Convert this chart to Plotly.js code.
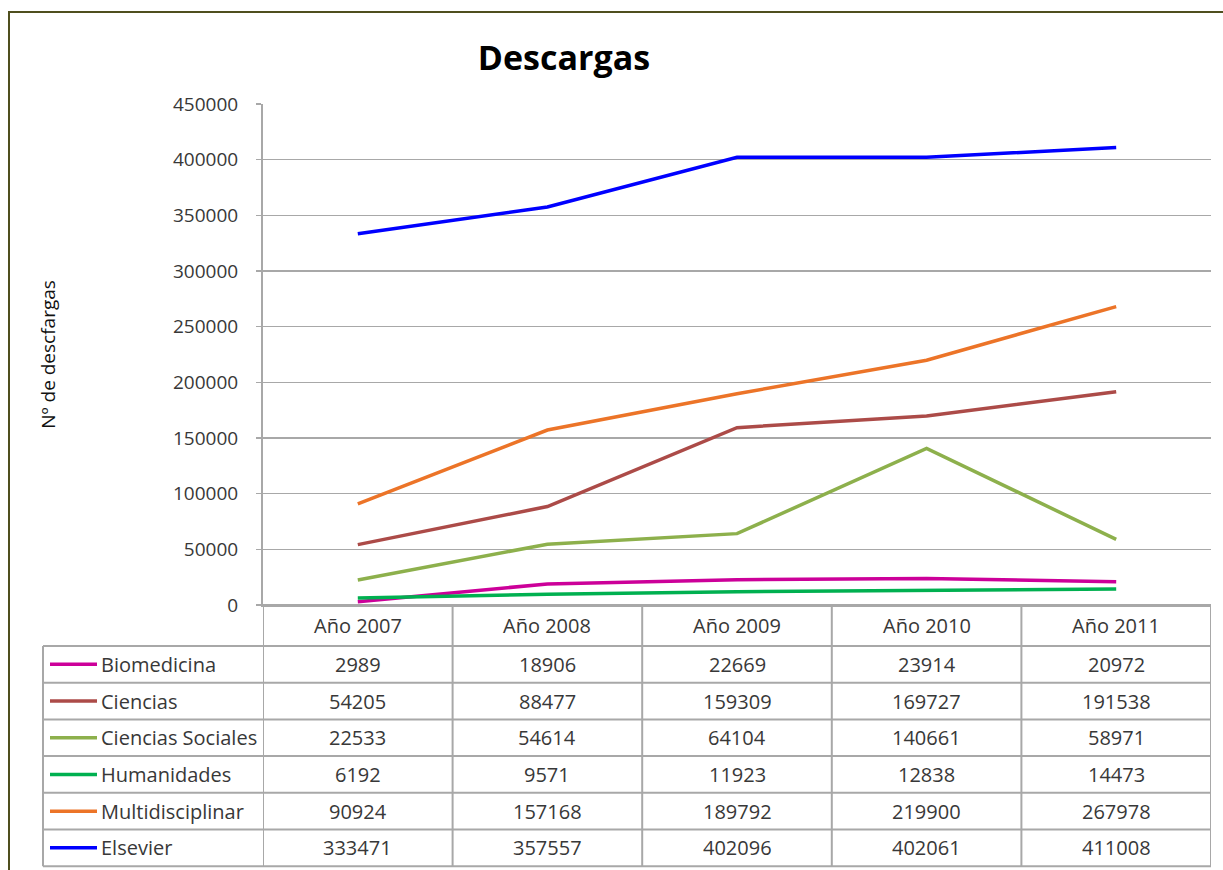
<!DOCTYPE html>
<html>
<head>
<meta charset="utf-8">
<script src="https://cdn.plot.ly/plotly-3.0.1.min.js"></script>
<style>html,body{margin:0;padding:0;background:#fff;}#chart{width:1223px;height:870px;}</style>
</head>
<body>
<div id="chart"></div>
<script>
const years = ['Año 2007', 'Año 2008', 'Año 2009', 'Año 2010', 'Año 2011'];
const biomedicina = [2989, 18906, 22669, 23914, 20972];
const ciencias = [54205, 88477, 159309, 169727, 191538];
const cienciasSociales = [22533, 54614, 64104, 140661, 58971];
const humanidades = [6192, 9571, 11923, 12838, 14473];
const multidisciplinar = [90924, 157168, 189792, 219900, 267978];
const elsevier = [333471, 357557, 402096, 402061, 411008];
const seriesNames = ['Biomedicina', 'Ciencias', 'Ciencias Sociales', 'Humanidades', 'Multidisciplinar', 'Elsevier'];
const seriesValues = [biomedicina, ciencias, cienciasSociales, humanidades, multidisciplinar, elsevier];
const seriesColors = ['#CC0099', '#AC4B48', '#8DB04C', '#00B050', '#EC7428', '#0000FF'];

const W = 1223, H = 870;
const px = v => v / W;
const py = v => 1 - v / H;
const FONT = '"Open Sans", sans-serif';
const TXT = '#383838';
const GRID = '#A8A8A8';

const traces = seriesNames.map((name, i) => ({
  type: 'scatter', mode: 'lines', name: name,
  x: years, y: seriesValues[i],
  line: {color: seriesColors[i], width: 3.5},
  showlegend: false, hoverinfo: 'x+y+name'
}));

// table geometry (layout only)
const tableTop = 605, headerH = 41, rowH = 36.7;
const legendLeft = 43;
const rowTop = r => tableTop + headerH + r * rowH;

const shapes = [];
const annotations = [];

// outer frame
shapes.push({type: 'rect', xref: 'paper', yref: 'paper', x0: px(9), x1: 1.02, y0: -0.02, y1: py(12),
  line: {color: '#4F4F1E', width: 2}, layer: 'below'});

// horizontal lines of table
shapes.push({type: 'line', xref: 'paper', yref: 'paper', x0: px(263), x1: px(1211), y0: py(tableTop), y1: py(tableTop), line: {color: GRID, width: 2}});
for (let r = 0; r <= seriesNames.length; r++) {
  shapes.push({type: 'line', xref: 'paper', yref: 'paper', x0: px(legendLeft), x1: px(1211), y0: py(rowTop(r)), y1: py(rowTop(r)), line: {color: GRID, width: 2}});
}
// legend column left edge
shapes.push({type: 'line', xref: 'paper', yref: 'paper', x0: px(legendLeft), x1: px(legendLeft), y0: py(rowTop(0)), y1: py(rowTop(seriesNames.length)), line: {color: GRID, width: 2}});
// column boundaries through the x axis scale
for (let j = 0; j <= years.length; j++) {
  shapes.push({type: 'line', xref: 'x', yref: 'paper', x0: j - 0.5, x1: j - 0.5, y0: py(tableTop), y1: py(rowTop(seriesNames.length)), line: {color: GRID, width: 2}});
}
const cellFont = {family: FONT, size: 20, color: TXT};
// header labels
years.forEach(y => {
  annotations.push({xref: 'x', yref: 'paper', x: y, y: py(tableTop + headerH / 2), text: y, showarrow: false,
    xanchor: 'center', yanchor: 'middle', font: cellFont});
});
// rows
seriesNames.forEach((name, i) => {
  const cy = py(rowTop(i) + rowH / 2);
  shapes.push({type: 'line', xref: 'paper', yref: 'paper', x0: px(50), x1: px(97), y0: cy, y1: cy, line: {color: seriesColors[i], width: 3.5}});
  annotations.push({xref: 'paper', yref: 'paper', x: px(99), y: cy, text: name, showarrow: false,
    xanchor: 'left', yanchor: 'middle', font: cellFont});
  seriesValues[i].forEach((v, j) => {
    annotations.push({xref: 'x', yref: 'paper', x: years[j], y: cy, text: String(v), showarrow: false,
      xanchor: 'center', yanchor: 'middle', font: cellFont});
  });
});

const layout = {
  width: W, height: H,
  margin: {l: 0, r: 0, t: 0, b: 0},
  paper_bgcolor: '#FFFFFF', plot_bgcolor: '#FFFFFF',
  showlegend: false,
  title: {text: 'Descargas', x: px(564), xanchor: 'center', y: py(58), yanchor: 'middle',
    font: {family: FONT, size: 34, weight: 700, color: '#000000'}},
  xaxis: {
    domain: [px(263), px(1211)], type: 'category', range: [-0.5, 4.5],
    showticklabels: false, showgrid: false, zeroline: false,
    showline: true, linecolor: GRID, linewidth: 2, ticks: ''
  },
  yaxis: {
    domain: [py(605), py(104)], range: [0, 450000], dtick: 50000, tick0: 0,
    tickformat: 'd', showgrid: true, gridcolor: GRID, gridwidth: 1.5,
    zeroline: false, showline: true, linecolor: GRID, linewidth: 2,
    ticks: 'outside', ticklen: 5, tickcolor: GRID, tickwidth: 1.5,
    ticklabelstandoff: 14,
    tickfont: {family: FONT, size: 19, color: TXT},
    title: {text: 'Nº de descfargas', standoff: 112, font: {family: FONT, size: 19, color: '#111111'}},
    automargin: false
  },
  shapes: shapes,
  annotations: annotations
};

Plotly.newPlot('chart', traces, layout, {displayModeBar: false, staticPlot: true});
</script>
</body>
</html>
